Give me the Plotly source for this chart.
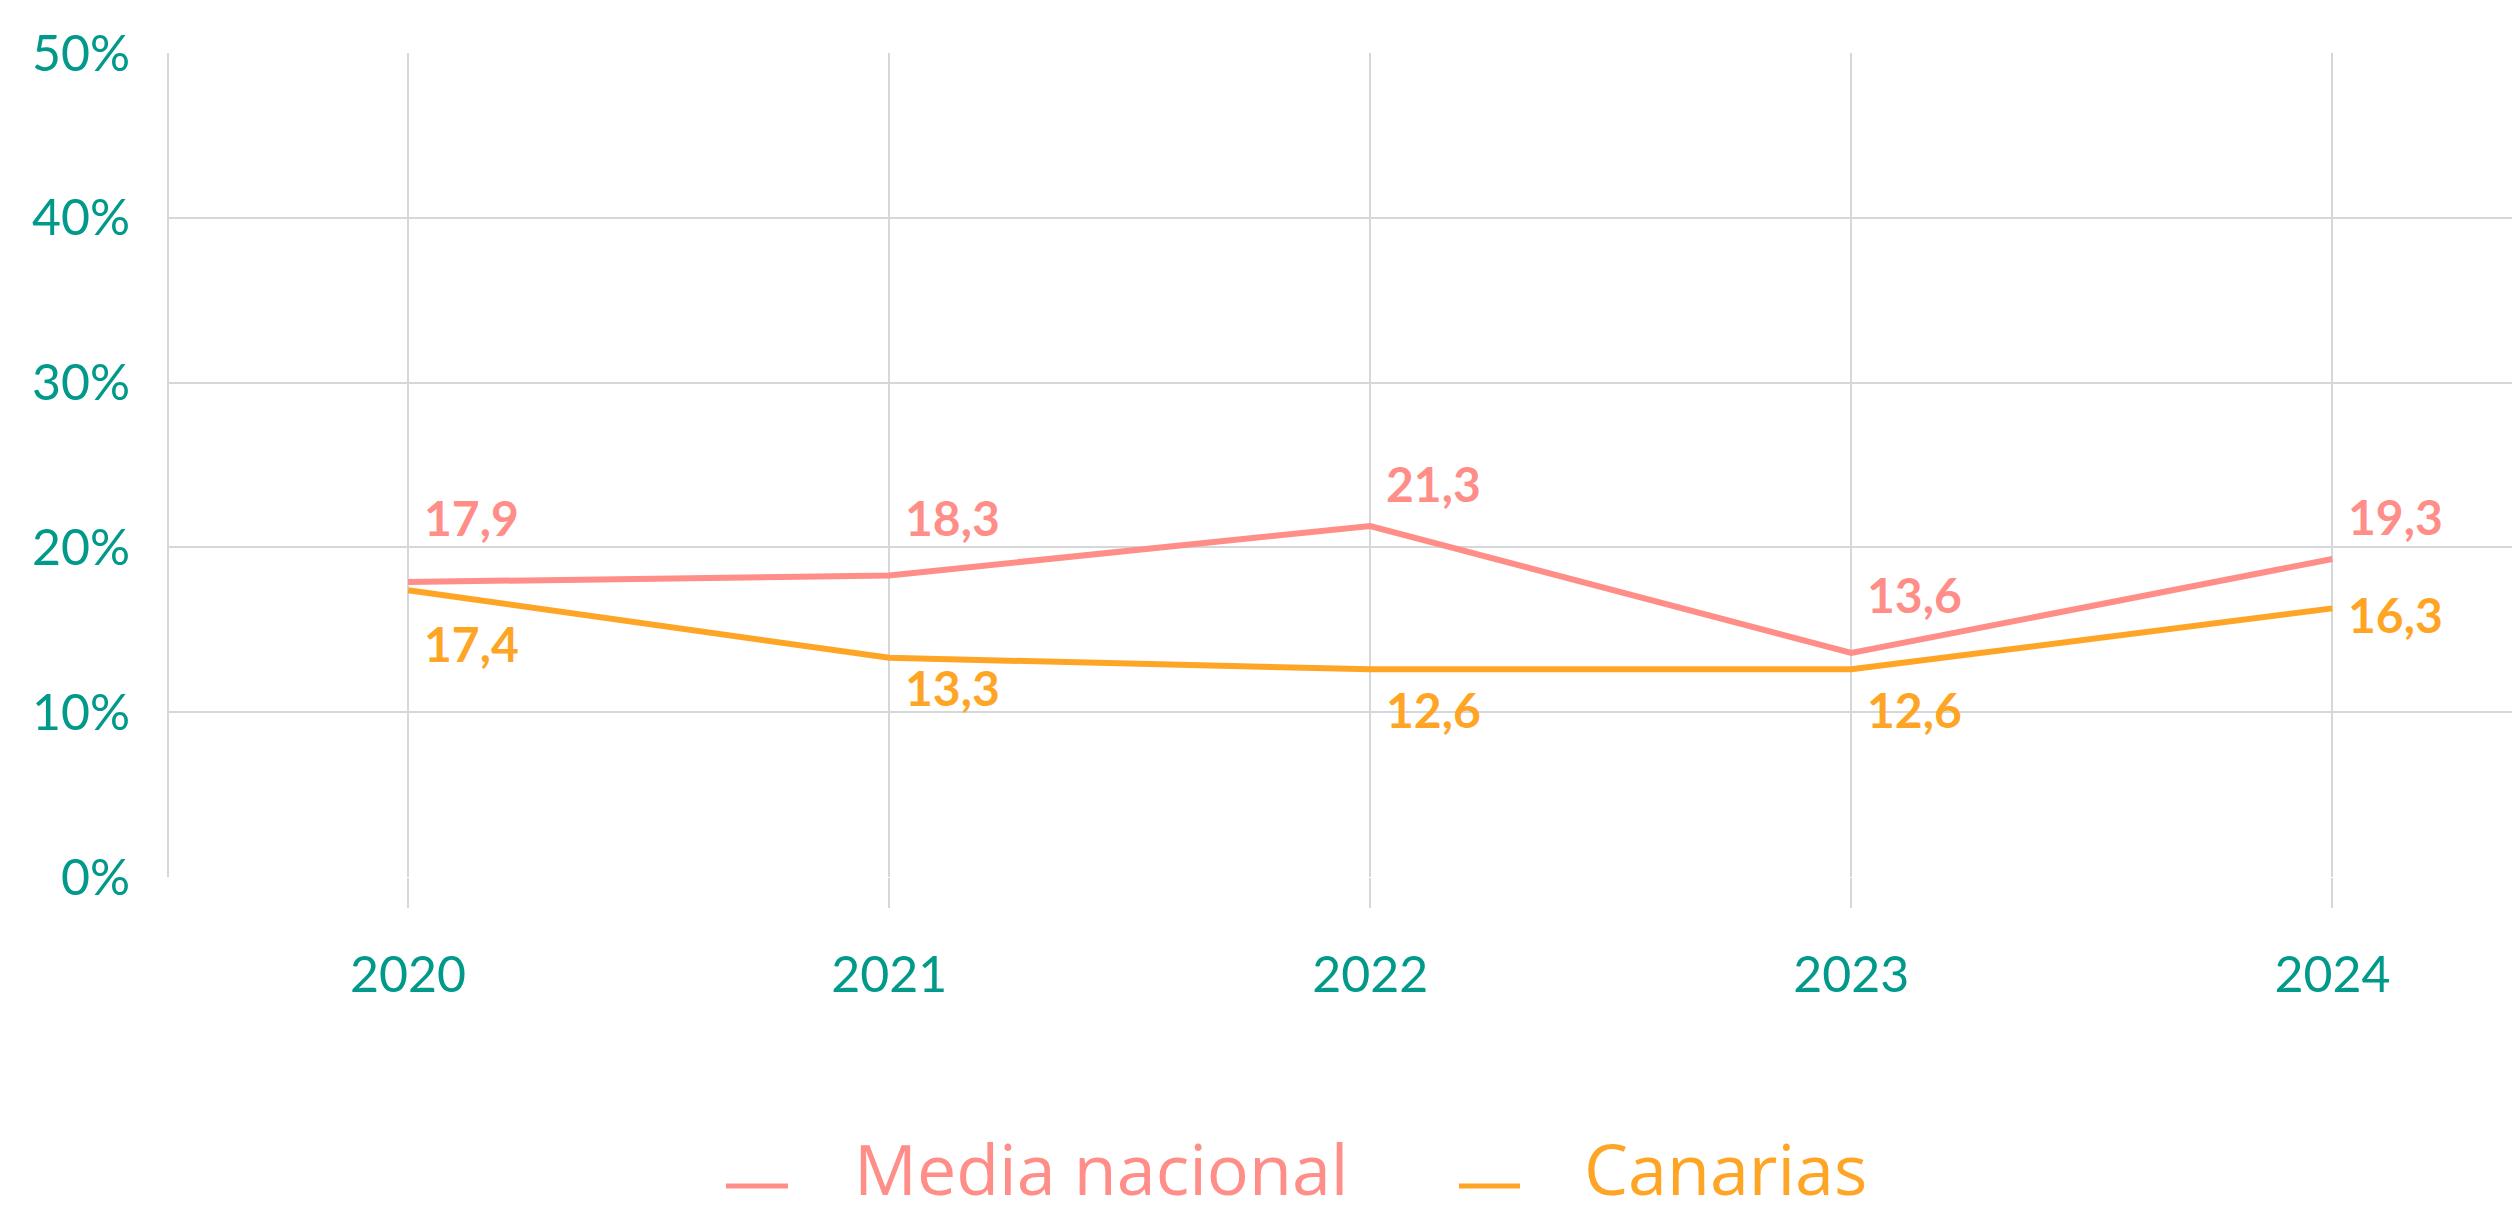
import plotly.graph_objects as go

years = ["2020", "2021", "2022", "2023", "2024"]
media_nacional = [17.9, 18.3, 21.3, 13.6, 19.3]
canarias = [17.4, 13.3, 12.6, 12.6, 16.3]
media_labels = ["17,9", "18,3", "21,3", "13,6", "19,3"]
canarias_labels = ["17,4", "13,3", "12,6", "12,6", "16,3"]
y_ticks = [0, 10, 20, 30, 40, 50]
y_tick_text = ["0%", "10%", "20%", "30%", "40%", "50%"]

# styling (label offsets in pixels, positive = up)
media_label_shift = [65, 58, 42, 58, 42]
canarias_label_shift = [-53, -30, -40, -40, -6]

PINK = "#FF8D88"
ORANGE = "#FFA526"
TEAL = "#00998A"
GRID = "#D4D8D8"
FONT = "Lato"

# page has an 8px body margin; work in page pixels and convert
OFF = 8
W, H = 2520 - OFF, 1215 - OFF
ML, MR, MT = 169 - OFF, 0, 53 - OFF
MB = H - (877 - OFF)
PW = W - ML - MR
PH = H - MT - MB

fig = go.Figure()
fig.add_trace(go.Scatter(x=years, y=media_nacional, mode="lines", name="Media nacional",
                         line=dict(color=PINK, width=6), hoverinfo="skip"))
fig.add_trace(go.Scatter(x=years, y=canarias, mode="lines", name="Canarias",
                         line=dict(color=ORANGE, width=6), hoverinfo="skip"))

annotations = []
for i, (y, t, s) in enumerate(zip(media_nacional, media_labels, media_label_shift)):
    annotations.append(dict(xref="x", yref="y", x=i, y=y, text=t, showarrow=False,
                            xanchor="left", yanchor="middle", xshift=14, yshift=s,
                            font=dict(family=FONT, size=48, color=PINK, weight="bold")))
for i, (y, t, s) in enumerate(zip(canarias, canarias_labels, canarias_label_shift)):
    annotations.append(dict(xref="x", yref="y", x=i, y=y, text=t, showarrow=False,
                            xanchor="left", yanchor="middle", xshift=14, yshift=s,
                            font=dict(family=FONT, size=48, color=ORANGE, weight="bold")))

# custom legend (page pixel positions)
def px_x(p):
    return (p - OFF - ML) / PW

def px_y(p):
    return (H - MB - (p - OFF)) / PH

legend_line_y = 1186
legend_text_y = 1168
shapes = [
    dict(type="line", xref="paper", yref="paper", x0=px_x(726), x1=px_x(788),
         y0=px_y(legend_line_y), y1=px_y(legend_line_y), line=dict(color=PINK, width=5)),
    dict(type="line", xref="paper", yref="paper", x0=px_x(1459), x1=px_x(1520),
         y0=px_y(legend_line_y), y1=px_y(legend_line_y), line=dict(color=ORANGE, width=5)),
]
annotations.append(dict(xref="paper", yref="paper", x=px_x(852), y=px_y(legend_text_y), text="Media nacional",
                        showarrow=False, xanchor="left", yanchor="middle",
                        font=dict(family="Open Sans", size=70, color=PINK)))
annotations.append(dict(xref="paper", yref="paper", x=px_x(1582), y=px_y(legend_text_y), text="Canarias",
                        showarrow=False, xanchor="left", yanchor="middle",
                        font=dict(family="Open Sans", size=70, color=ORANGE)))

fig.update_layout(
    width=W, height=H,
    margin=dict(l=ML, r=MR, t=MT, b=MB, pad=0, autoexpand=False),
    paper_bgcolor="white", plot_bgcolor="white",
    showlegend=False,
    annotations=annotations,
    shapes=shapes,
    xaxis=dict(type="category", range=[-0.497, 4.39], showgrid=True, gridcolor=GRID, gridwidth=2,
               ticks="outside", ticklen=30, tickcolor=GRID, tickwidth=2, automargin=False,
               tickfont=dict(family=FONT, size=50, color=TEAL), ticklabelstandoff=24,
               showline=False, zeroline=False),
    yaxis=dict(range=[0, 50], tickvals=y_ticks, ticktext=y_tick_text, showgrid=True, gridcolor=GRID,
               gridwidth=2, showline=True, linecolor=GRID, linewidth=2, zeroline=False, automargin=False,
               tickfont=dict(family=FONT, size=50, color=TEAL), ticklabelstandoff=27),
)

fig.write_html("out.html")
